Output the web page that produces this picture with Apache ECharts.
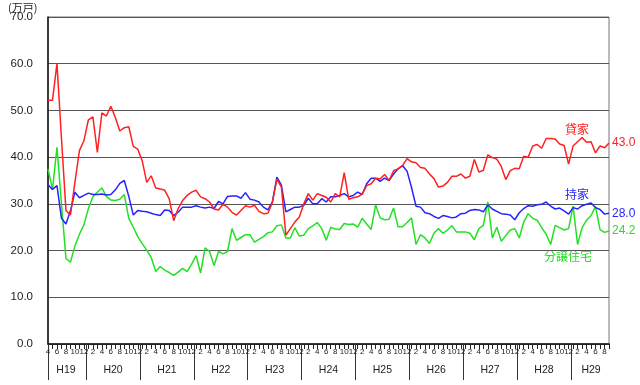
<!DOCTYPE html>
<html><head><meta charset="utf-8">
<script src="https://cdn.jsdelivr.net/npm/echarts@6/dist/echarts.min.js"></script>
<style>html,body{margin:0;padding:0;background:#fff}#c{width:640px;height:385px}</style>
</head><body><div id="c"></div>
<script>
// Era (Heisei) years on the axis and the months each covers
const eraYears = ['H19','H20','H21','H22','H23','H24','H25','H26','H27','H28','H29'];
const firstEraMonths = [4,5,6,7,8,9,10,11,12];
const fullYearMonths = [1,2,3,4,5,6,7,8,9,10,11,12];
const lastEraMonths = [1,2,3,4,5,6,7,8,9];
const shownMonthLabels = [2,4,6,8,10,12];
const seriesNames = ['貸家','持家','分譲住宅'];
const unitLabel = '(万戸)';

// 貸家 (rental)
const rental = [
 52.2,52.2,60.0,44.0,28.6,27.6,34.6,41.4,43.5,48.0,
 48.6,41.0,49.5,48.8,50.9,48.5,45.6,46.3,46.5,42.3,
 41.7,39.2,34.6,36.0,33.4,33.2,32.9,31.1,26.4,29.0,
 30.7,31.8,32.5,32.9,31.5,31.1,30.4,28.9,28.7,29.9,
 29.3,28.2,27.6,28.6,29.6,29.3,29.7,28.4,27.9,28.0,
 30.3,35.3,33.6,23.3,24.7,26.1,27.2,30.0,32.2,30.8,
 32.2,31.8,31.4,30.4,32.2,31.5,36.7,31.0,31.3,31.5,
 32.1,33.9,34.3,35.5,35.3,36.3,35.0,37.1,37.5,38.2,
 39.7,39.0,38.8,37.8,37.6,36.4,35.4,33.6,33.8,34.6,
 35.9,35.9,36.4,35.5,35.9,39.5,36.8,37.2,40.5,39.9,
 39.6,38.0,35.2,37.1,37.6,37.5,40.2,40.0,42.4,42.7,
 41.9,44.0,44.0,43.9,42.8,42.5,38.5,42.4,43.3,44.2,
 43.2,43.3,40.9,42.4,42.0,43.0];
// 持家 (owner-occupied)
const owned = [
 34.1,33.1,33.9,26.9,25.7,28.5,32.5,31.3,31.8,32.3,
 32.0,32.0,32.1,31.9,32.0,33.0,34.4,35.0,31.6,27.6,
 28.6,28.4,28.3,28.0,27.7,27.5,28.7,28.6,27.5,28.2,
 29.3,29.3,29.3,29.6,29.3,29.1,29.3,29.0,30.5,30.0,
 31.6,31.7,31.7,31.2,32.4,31.0,30.8,30.4,29.3,28.7,
 30.4,35.7,34.0,28.3,28.8,29.3,29.3,29.7,31.2,30.0,
 30.0,31.1,30.4,31.5,31.5,31.8,32.2,31.5,31.8,32.5,
 32.0,34.3,35.5,35.5,34.8,35.5,35.0,36.4,37.5,38.2,
 37.0,33.5,29.5,29.3,28.1,27.9,27.3,26.9,27.5,27.3,
 27.0,27.2,27.9,28.0,28.6,28.8,28.7,28.3,29.8,28.9,
 28.4,27.9,27.8,27.6,26.6,28.1,29.0,29.6,29.5,29.8,
 29.9,30.4,29.5,28.9,29.1,28.5,27.8,29.2,28.9,29.6,
 29.9,30.2,29.2,28.8,27.8,28.0];
// 分譲住宅 (built for sale)
const forSale = [
 37.5,33.1,42.1,30.0,18.3,17.5,21.0,23.5,25.5,29.0,
 31.5,32.5,33.4,31.6,30.8,30.7,31.0,32.0,26.9,25.0,
 23.0,21.5,20.1,18.5,15.5,16.6,15.8,15.3,14.7,15.4,
 16.2,15.5,17.1,18.9,15.2,20.6,19.8,16.8,19.8,19.3,
 19.8,24.7,22.2,22.8,23.4,23.4,21.8,22.4,23.0,23.8,
 24.0,25.3,25.5,22.7,22.7,24.9,23.1,23.3,24.7,25.3,
 26.0,24.7,22.2,25.0,24.6,24.5,25.8,25.6,25.7,25.0,
 26.9,25.7,24.5,29.8,27.0,26.6,26.7,29.1,25.1,25.1,
 26.0,27.0,21.3,23.4,22.7,21.5,23.7,24.7,23.7,24.4,
 25.3,24.0,24.0,24.0,23.7,22.3,24.7,25.4,30.4,22.7,
 25.0,22.0,23.2,24.4,24.7,22.7,26.1,27.9,26.9,26.5,
 24.9,23.5,21.3,25.4,24.9,24.4,24.7,29.5,21.3,24.9,
 26.5,27.5,29.4,24.5,23.9,24.2];

// Build the month categories
const categories = [];
const monthOf = [];
const eraRanges = [];
eraYears.forEach((y, k) => {
  const ms = k === 0 ? firstEraMonths : (k === eraYears.length - 1 ? lastEraMonths : fullYearMonths);
  const start = categories.length;
  ms.forEach(m => { categories.push(y + '/' + m); monthOf.push(m); });
  eraRanges.push([start, categories.length - 1]);
});
const lastIdx = categories.length - 1;
const eraBoundaries = eraRanges.map((r, k) => k === 0 ? 0 : r[0] - 0.5);
const eraCenters = eraRanges.map(r => (r[0] + r[1]) / 2);

const RED = '#ff2020', BLUE = '#2424ff', GREEN = '#24e024';
const chart = echarts.init(document.getElementById('c'), null, {renderer: 'canvas'});
function mkSeries(name, data, color) {
  return {
    name, type: 'line', data, xAxisIndex: 0, yAxisIndex: 0,
    symbol: 'none', smooth: false,
    lineStyle: {color, width: 1.5}, itemStyle: {color},
    endLabel: {show: true, formatter: p => Number(p.value).toFixed(1), color, fontSize: 12,
      fontFamily: 'Liberation Sans, Arial, sans-serif', distance: 3},
    emphasis: {disabled: true}
  };
}
chart.setOption({
  animation: false,
  grid: {left: 48, right: 31, top: 17, bottom: 41, show: true, borderColor: '#777', borderWidth: 1},
  xAxis: [{
    type: 'category', data: categories, boundaryGap: false, position: 'bottom',
    axisLine: {show: true, lineStyle: {color: '#111', width: 1.5}},
    axisTick: {show: true, interval: 0, length: 5, lineStyle: {color: '#222', width: 1}},
    axisLabel: {
      interval: (i) => shownMonthLabels.includes(monthOf[i]),
      formatter: (v, i) => String(monthOf[i]),
      fontSize: 8, margin: 4, color: '#222', fontFamily: 'Liberation Sans, Arial, sans-serif'
    },
    splitLine: {show: false}
  }, {
    type: 'value', min: 0, max: lastIdx, position: 'bottom', offset: 0,
    axisLine: {show: false},
    axisTick: {show: true, customValues: eraBoundaries, length: 36, lineStyle: {color: '#333', width: 1}},
    axisLabel: {
      customValues: eraCenters,
      formatter: v => { const k = eraCenters.indexOf(v); return k >= 0 ? eraYears[k] : ''; },
      fontSize: 10.5, margin: 21, color: '#222', fontFamily: 'Liberation Sans, Arial, sans-serif'
    },
    splitLine: {show: false}
  }],
  yAxis: {
    type: 'value', min: 0, max: 70, interval: 10,
    axisLine: {show: true, lineStyle: {color: '#111', width: 1.5}},
    axisTick: {show: false},
    axisLabel: {formatter: v => v.toFixed(1), fontSize: 11.5, margin: 15, color: '#222',
      fontFamily: 'Liberation Sans, Arial, sans-serif'},
    splitLine: {show: true, lineStyle: {color: '#555', width: 1.2}}
  },
  series: [
    mkSeries(seriesNames[2], forSale, GREEN),
    mkSeries(seriesNames[1], owned, BLUE),
    mkSeries(seriesNames[0], rental, RED)
  ],
  graphic: [
    {type: 'text', left: 8, top: 2, style: {text: unitLabel, fontSize: 11, fill: '#222',
      fontFamily: 'Noto Sans CJK JP, sans-serif'}},
    {type: 'text', left: 565, top: 123, style: {text: seriesNames[0], fontSize: 12, fill: RED,
      fontFamily: 'Noto Sans CJK JP, sans-serif'}},
    {type: 'text', left: 565, top: 188, style: {text: seriesNames[1], fontSize: 12, fill: BLUE,
      fontFamily: 'Noto Sans CJK JP, sans-serif'}},
    {type: 'text', left: 544, top: 250, style: {text: seriesNames[2], fontSize: 12, fill: GREEN,
      fontFamily: 'Noto Sans CJK JP, sans-serif'}}
  ]
});
</script></body></html>
